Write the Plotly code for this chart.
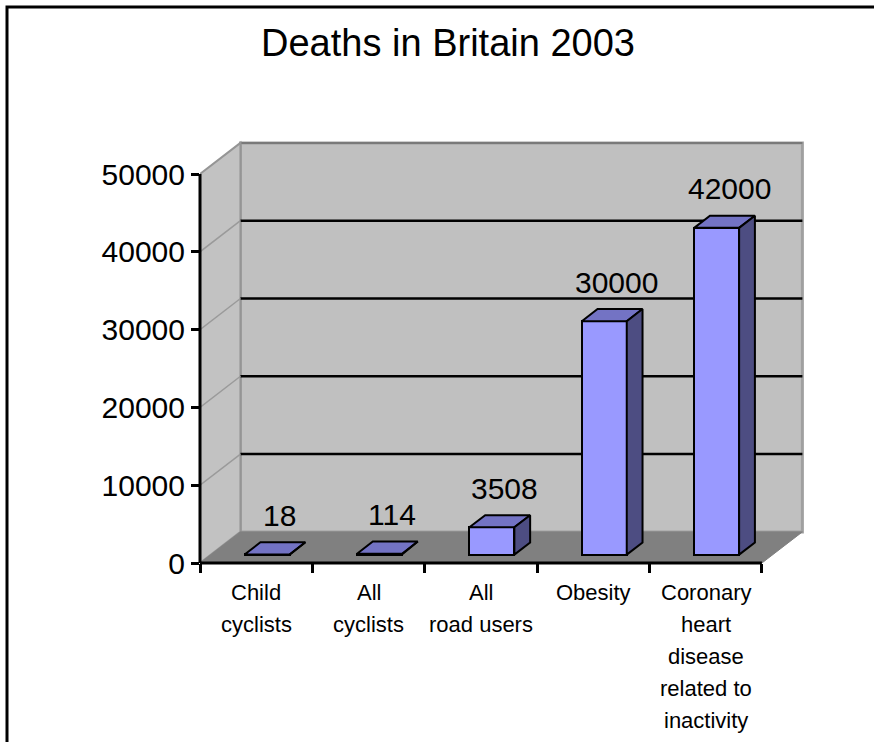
import plotly.graph_objects as go

# ---------------- data ----------------
categories = ["Child cyclists", "All cyclists", "All road users", "Obesity",
              "Coronary heart disease related to inactivity"]
label_lines = [["Child", "cyclists"], ["All", "cyclists"], ["All", "road users"],
               ["Obesity"], ["Coronary", "heart", "disease", "related to", "inactivity"]]
deaths = [18, 114, 3508, 30000, 42000]
y_ticks = [0, 10000, 20000, 30000, 40000, 50000]
y_tick_text = ["0", "10000", "20000", "30000", "40000", "50000"]
title_text = "Deaths in Britain 2003"

# ---------------- layout constants ----------------
W, H = 874, 742
L, R, T, B = 200, 66, 139, 179
FONT = "Liberation Sans, Arial, Helvetica, sans-serif"
DX = 0.36      # oblique depth offset in category units
DY = 4000      # oblique depth offset in value units
BAR_W = 0.4
D0, D1 = 0.27, 0.66   # bar depth start / end (fraction of floor depth)

n = len(categories)
x_min, x_max = -0.5, n - 0.5
y_top = y_ticks[-1]
XR = [x_min, x_max + DX + 0.05]
YR = [0, y_top + DY + 500]

FRONT = "#9999FF"
TOP = "#7373C4"
SIDE = "#4D4D82"
EDGE = "#000000"


def px_to_xpaper(px):
    return (px - L) / (W - L - R)


def py_to_ypaper(py):
    return (H - B - py) / (H - T - B)


def poly(points):
    s = "M " + " L ".join(f"{x},{y}" for x, y in points) + " Z"
    return s


fig = go.Figure()

# front faces of bars (library bars, offset into depth)
fig.add_trace(go.Bar(
    x=[i + D0 * DX for i in range(n)], y=deaths, base=D0 * DY, width=BAR_W,
    marker=dict(color=FRONT, line=dict(color=EDGE, width=2)),
    hoverinfo="skip", showlegend=False))

# top and side faces
for i, v in enumerate(deaths):
    xl, xr = i - BAR_W / 2, i + BAR_W / 2
    top_x = [xl + D0 * DX, xr + D0 * DX, xr + D1 * DX, xl + D1 * DX, xl + D0 * DX]
    top_y = [v + D0 * DY, v + D0 * DY, v + D1 * DY, v + D1 * DY, v + D0 * DY]
    fig.add_trace(go.Scatter(x=top_x, y=top_y, fill="toself", fillcolor=TOP,
                             mode="lines", line=dict(color=EDGE, width=2),
                             hoverinfo="skip", showlegend=False))
    side_x = [xr + D0 * DX, xr + D1 * DX, xr + D1 * DX, xr + D0 * DX, xr + D0 * DX]
    side_y = [D0 * DY, D1 * DY, v + D1 * DY, v + D0 * DY, D0 * DY]
    fig.add_trace(go.Scatter(x=side_x, y=side_y, fill="toself", fillcolor=SIDE,
                             mode="lines", line=dict(color=EDGE, width=2),
                             hoverinfo="skip", showlegend=False))

shapes = []
# back wall
shapes.append(dict(type="path", xref="x", yref="y", layer="below",
                   path=poly([(x_min + DX, DY), (x_max + DX, DY),
                              (x_max + DX, y_top + DY), (x_min + DX, y_top + DY)]),
                   fillcolor="#C0C0C0", line=dict(color="#A0A0A0", width=3)))
shapes.append(dict(type="line", xref="x", yref="y", layer="below",
                   x0=x_min + DX, x1=x_max + DX, y0=y_top + DY, y1=y_top + DY,
                   line=dict(color="#7A7A7A", width=2)))
# left wall
shapes.append(dict(type="path", xref="x", yref="y", layer="below",
                   path=poly([(x_min, 0), (x_min, y_top),
                              (x_min + DX, y_top + DY), (x_min + DX, DY)]),
                   fillcolor="#C2C2C2", line=dict(color="#959595", width=2)))
# floor
shapes.append(dict(type="path", xref="x", yref="y", layer="below",
                   path=poly([(x_min, 0), (x_max, 0), (x_max + DX, DY), (x_min + DX, DY)]),
                   fillcolor="#808080", line=dict(color="#808080", width=1)))
# gridlines
for v in y_ticks[1:-1]:
    shapes.append(dict(type="line", xref="x", yref="y", layer="below",
                       x0=x_min + DX, x1=x_max + DX, y0=v + DY, y1=v + DY,
                       line=dict(color="#000000", width=2.5)))
    shapes.append(dict(type="line", xref="x", yref="y", layer="below",
                       x0=x_min, x1=x_min + DX, y0=v, y1=v + DY,
                       line=dict(color="#9A9A9A", width=1.5)))
# front axis lines
shapes.append(dict(type="line", xref="paper", yref="y", layer="above",
                   x0=0, x1=0, y0=0, y1=y_top, line=dict(color="#000000", width=3)))
shapes.append(dict(type="line", xref="x", yref="paper", layer="above",
                   x0=x_min, x1=x_max, y0=0, y1=0, line=dict(color="#000000", width=3)))
# outer frame
shapes.append(dict(type="rect", xref="paper", yref="paper", layer="above",
                   x0=px_to_xpaper(7), x1=px_to_xpaper(W + 30),
                   y0=py_to_ypaper(H + 30), y1=py_to_ypaper(7),
                   line=dict(color="#000000", width=3), fillcolor="rgba(0,0,0,0)"))

annotations = []
# value labels
for i, v in enumerate(deaths):
    annotations.append(dict(x=i + 0.21, y=v + D1 * DY, xref="x", yref="y",
                            text=str(v), showarrow=False, yanchor="middle",
                            yshift=27, font=dict(family=FONT, size=30, color="#000000")))
# category labels, one line each
for i, lines in enumerate(label_lines):
    for k, line in enumerate(lines):
        annotations.append(dict(x=i, y=0, xref="x", yref="paper", text=line,
                                showarrow=False, yanchor="middle", xanchor="center",
                                yshift=-(29 + 32 * k),
                                font=dict(family=FONT, size=22, color="#000000")))

fig.update_layout(
    width=W, height=H,
    margin=dict(l=L, r=R, t=T, b=B, autoexpand=False),
    paper_bgcolor="#FFFFFF", plot_bgcolor="rgba(0,0,0,0)",
    showlegend=False,
    title=dict(text=title_text, x=448 / W, xref="container", xanchor="center",
               y=1 - 43 / H, yref="container", yanchor="middle",
               font=dict(family=FONT, size=38, color="#000000")),
    xaxis=dict(range=XR, tickmode="array", tickvals=[x_min + k for k in range(n + 1)],
               showticklabels=False, ticks="outside", ticklen=9, tickwidth=3,
               tickcolor="#000000", showgrid=False, zeroline=False, showline=False,
               fixedrange=True),
    yaxis=dict(range=YR, tickmode="array", tickvals=y_ticks, ticktext=y_tick_text,
               ticks="outside", ticklen=8, tickwidth=3, tickcolor="#000000",
               tickfont=dict(family=FONT, size=30, color="#000000"),
               showgrid=False, zeroline=False, showline=False, fixedrange=True),
    shapes=shapes, annotations=annotations,
    bargap=0,
)

fig.write_html("out.html")
